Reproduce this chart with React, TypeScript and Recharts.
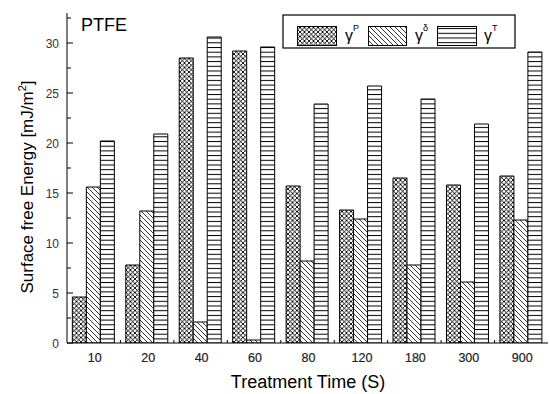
import { Bar, BarChart, XAxis, YAxis } from "recharts";

// treatment times (s)
const categories = ["10", "20", "40", "60", "80", "120", "180", "300", "900"];
// polar component
const gammaP = [4.6, 7.8, 28.5, 29.2, 15.7, 13.3, 16.5, 15.8, 16.7];
// dispersive component
const gammaD = [15.6, 13.2, 2.1, 0.3, 8.2, 12.4, 7.8, 6.1, 12.3];
// total
const gammaT = [20.2, 20.9, 30.6, 29.6, 23.9, 25.7, 24.4, 21.9, 29.1];
const yTicks = [0, 2.5, 5, 7.5, 10, 12.5, 15, 17.5, 20, 22.5, 25, 27.5, 30, 32.5];

const data = categories.map((time, i) => ({
  time, p: gammaP[i], d: gammaD[i], t: gammaT[i],
}));

const FONT = "'Liberation Sans', Arial, sans-serif";
const PLOT_LEFT = 67;
const PLOT_RIGHT = 548;
const PLOT_BOTTOM = 343;
const BAND = (PLOT_RIGHT - PLOT_LEFT) / categories.length;

function Patterns({ prefix }: { prefix: string }) {
  return (
    <defs>
      <pattern id={`${prefix}cross`} width="4.5" height="4.5" patternUnits="userSpaceOnUse">
        <rect width="4.5" height="4.5" fill="#fff" />
        <path d="M0,0L4.5,4.5M4.5,0L0,4.5" stroke="#000" strokeWidth="0.9" />
        <circle cx="2.25" cy="2.25" r="0.7" fill="#000" />
      </pattern>
      <pattern id={`${prefix}diag`} width="5" height="5" patternUnits="userSpaceOnUse">
        <rect width="5" height="5" fill="#fff" />
        <path d="M0,0L5,5M-1,4L1,6M4,-1L6,1" stroke="#000" strokeWidth="0.8" />
      </pattern>
      <pattern id={`${prefix}horiz`} width="6" height="4.7" patternUnits="userSpaceOnUse">
        <rect width="6" height="4.7" fill="#fff" />
        <path d="M0,0.5L6,0.5" stroke="#000" strokeWidth="1" />
      </pattern>
    </defs>
  );
}

function YTick({ x, y, payload }: any) {
  const major = payload.value % 5 === 0;
  return (
    <g>
      <line x1={PLOT_LEFT} x2={PLOT_LEFT + (major ? 6 : 4)} y1={y} y2={y} stroke="#000" />
      {major && (
        <text x={x} y={y} dy={4.5} textAnchor="end" fontSize={12} fill="#333" fontFamily={FONT}>
          {payload.value}
        </text>
      )}
    </g>
  );
}

function XTick({ x, y, payload, index }: any) {
  const edge = x - BAND / 2;
  return (
    <g>
      {index > 0 && <line x1={edge} x2={edge} y1={PLOT_BOTTOM} y2={PLOT_BOTTOM - 3} stroke="#000" />}
      <text x={x + 1} y={y} dy={10.5} textAnchor="middle" fontSize={12.5} fill="#222"
        fontFamily={FONT} stroke="#222" strokeWidth={0.2}>
        {payload.value}
      </text>
    </g>
  );
}

function GammaLabel({ x, sup }: { x: number; sup: string }) {
  return (
    <text x={x} y={27} fontSize={16} fontFamily={FONT} fill="#000">
      γ<tspan dy={-10} fontSize={9}>{sup}</tspan>
    </text>
  );
}

function LegendBox() {
  return (
    <svg width={234} height={36} style={{ position: "absolute", left: 282, top: 14 }}>
      <Patterns prefix="lg-" />
      <rect x={1} y={1} width={232} height={33} fill="#fff" stroke="#000" strokeWidth={1.2} />
      <rect x={15.5} y={12.5} width={39} height={19} fill="url(#lg-cross)" stroke="#000" />
      <GammaLabel x={63} sup="P" />
      <rect x={86.5} y={12.5} width={38} height={19} fill="url(#lg-diag)" stroke="#000" />
      <GammaLabel x={133} sup="δ" />
      <rect x={155.5} y={12.5} width={39} height={19} fill="url(#lg-horiz)" stroke="#000" />
      <GammaLabel x={202} sup="T" />
    </svg>
  );
}

export default function App() {
  return (
    <div style={{ position: "absolute", left: 0, top: 0, width: 550, height: 394, background: "#fff" }}>
      <BarChart
        width={550} height={394} data={data}
        margin={{ top: 13, right: 2, bottom: 21, left: 0 }}
        barCategoryGap="10%" barGap={0}
      >
        <Patterns prefix="" />
        <XAxis
          dataKey="time" height={30} interval={0}
          axisLine={{ stroke: "#000" }} tickLine={false} tick={<XTick />}
          label={{
            content: () => (
              <text x={308} y={388} textAnchor="middle" fontSize={18} fontFamily={FONT} fill="#000">
                Treatment Time (S)
              </text>
            ),
          }}
        />
        <XAxis xAxisId="top" orientation="top" dataKey="time" height={0} tick={false} tickLine={false}
          axisLine={{ stroke: "#555", strokeWidth: 1.5 }} />
        <YAxis
          width={67} domain={[0, 33]} ticks={yTicks} interval={0} allowDataOverflow
          axisLine={{ stroke: "#000" }} tickLine={false} tick={<YTick />}
          label={{
            content: () => (
              <text x={33} y={187} transform="rotate(-90, 33, 187)" textAnchor="middle"
                fontSize={17} fontFamily={FONT} fill="#000">
                Surface free Energy [mJ/m<tspan dy={-7} fontSize={11}>2</tspan><tspan dy={7}>]</tspan>
              </text>
            ),
          }}
        />
        <YAxis yAxisId="right" orientation="right" width={0} domain={[0, 33]} tick={false} tickLine={false}
          axisLine={{ stroke: "#555", strokeWidth: 1.5 }} />
        <Bar dataKey="p" name="γP" fill="url(#cross)" stroke="#000" strokeWidth={1} isAnimationActive={false} />
        <Bar dataKey="d" name="γδ" fill="url(#diag)" stroke="#000" strokeWidth={1} isAnimationActive={false} />
        <Bar dataKey="t" name="γT" fill="url(#horiz)" stroke="#000" strokeWidth={1} isAnimationActive={false} />
      </BarChart>
      <div style={{ position: "absolute", left: 81, top: 15, fontFamily: FONT, fontSize: 18, lineHeight: "20px", color: "#000" }}>
        PTFE
      </div>
      <LegendBox />
    </div>
  );
}
